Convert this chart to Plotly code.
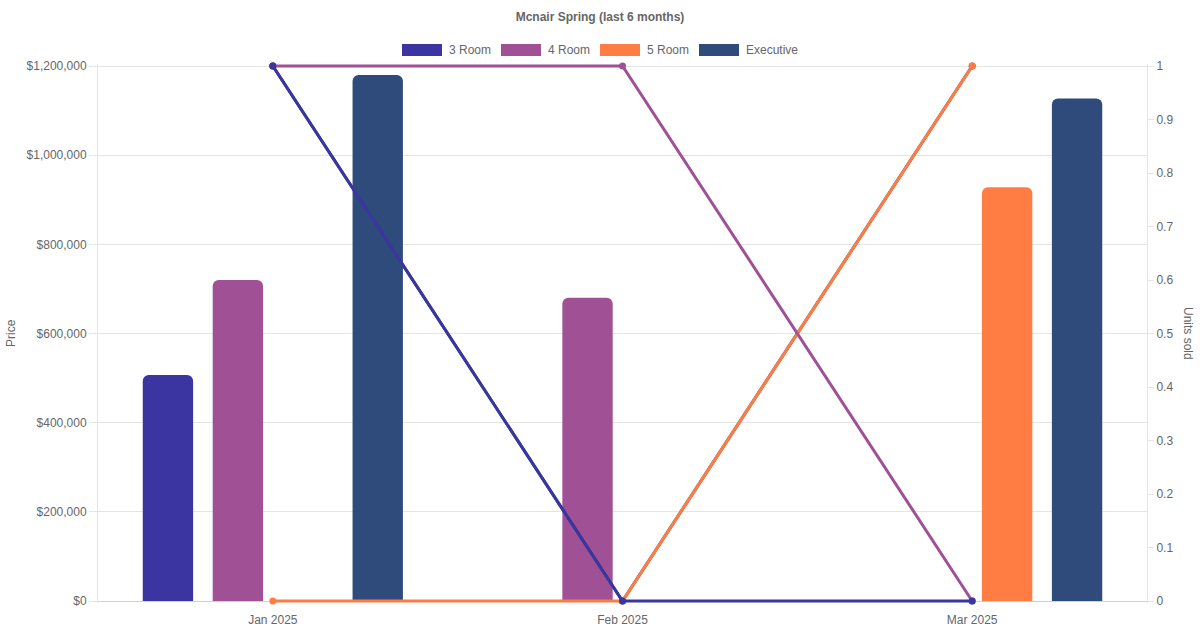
import plotly.graph_objects as go

months = ["Jan 2025", "Feb 2025", "Mar 2025"]
series_names = ["3 Room", "4 Room", "5 Room", "Executive"]
series_colors = ["#3a35a0", "#a05195", "#ff7c43", "#2f4b7c"]
price_3room = [507000, None, None]
price_4room = [720000, 680000, None]
price_5room = [None, None, 928000]
price_exec = [1180000, None, 1127000]
units_3room = [1, 0, 0]
units_4room = [1, 1, 0]
units_5room = [0, 0, 1]
units_exec = [1, 0, 1]
price_ticks = [0, 200000, 400000, 600000, 800000, 1000000, 1200000]

prices = [price_3room, price_4room, price_5room, price_exec]
units = [units_3room, units_4room, units_5room, units_exec]

FIG_W, FIG_H = 1200, 630
# desired plot area in pixels (value area), padded by EXT px so lines at edges are not clipped
L, R, T, B = 98, 1147, 66, 601
EXT = 2
W = R - L
H_ext = (B + EXT) - (T - EXT)

def px(x):
    return (x - L) / W

def py(y):
    return ((B + EXT) - y) / H_ext

pmax = 1200000
pe = pmax * EXT / (B - T)
ue = 1.0 * EXT / (B - T)

fig = go.Figure()
for name, color, vals in zip(series_names, series_colors, prices):
    fig.add_trace(go.Bar(
        x=months, y=vals, name=name, marker=dict(color=color, cornerradius=6,
        line=dict(width=0)), showlegend=False, yaxis="y"))

# lines: draw bottom to top -> Executive, 5 Room, 4 Room, 3 Room
for i in [3, 2, 1, 0]:
    fig.add_trace(go.Scatter(
        x=months, y=units[i], name=series_names[i], mode="lines+markers",
        line=dict(color=series_colors[i], width=3),
        marker=dict(color=series_colors[i], size=7),
        yaxis="y2", showlegend=False, cliponaxis=False))

font_fam = "Liberation Sans, Arial, sans-serif"
grid = "#e5e5e5"

# custom legend
legend_x = [402, 501, 600, 699]
shapes = []
annotations = []
for name, color, x0 in zip(series_names, series_colors, legend_x):
    shapes.append(dict(type="rect", xref="paper", yref="paper",
                       x0=px(x0), x1=px(x0 + 40), y0=py(56), y1=py(44),
                       fillcolor=color, line=dict(width=0), layer="above"))
    annotations.append(dict(text=name, xref="paper", yref="paper",
                            x=px(x0 + 45), y=py(50), xanchor="left", yanchor="middle",
                            showarrow=False, font=dict(size=12, color="#666", family=font_fam)))

annotations.append(dict(text="Price", xref="paper", yref="paper", x=px(11), y=py(333),
                        textangle=-90, showarrow=False, xanchor="center", yanchor="middle",
                        font=dict(size=12, color="#666", family=font_fam)))
annotations.append(dict(text="Units sold", xref="paper", yref="paper", x=px(1188), y=py(333),
                        textangle=90, showarrow=False, xanchor="center", yanchor="middle",
                        font=dict(size=12, color="#666", family=font_fam)))

fig.update_layout(
    width=FIG_W, height=FIG_H,
    margin=dict(l=L, r=FIG_W - R, t=T - EXT, b=FIG_H - (B + EXT), pad=0, autoexpand=False),
    paper_bgcolor="white", plot_bgcolor="white",
    font=dict(family=font_fam, size=12, color="#666"),
    title=dict(text="Mcnair Spring (last 6 months)", x=0.5, xanchor="center",
               y=1 - 17 / FIG_H, yanchor="middle",
               font=dict(size=12, color="#666", weight=700, family=font_fam)),
    barmode="group", bargap=0.2, bargroupgap=0.28,
    showlegend=False,
    xaxis=dict(type="category", range=[-0.5, 2.5], showgrid=False, automargin=False,
               showline=False, ticks="", tickfont=dict(size=12, color="#666"),
               ticklabelstandoff=8),
    yaxis=dict(range=[-pe, pmax + pe], tickvals=price_ticks, automargin=False,
               ticktext=["$" + f"{v:,}" for v in price_ticks],
               showgrid=True, gridcolor=grid, gridwidth=1,
               zeroline=True, zerolinecolor="#d0d0d0", zerolinewidth=1,
               showline=True, linecolor=grid, linewidth=1,
               ticks="outside", ticklen=8, tickcolor=grid,
               tickfont=dict(size=12, color="#666")),
    yaxis2=dict(range=[-ue, 1 + ue], tick0=0, dtick=0.1, overlaying="y", side="right",
                automargin=False, showgrid=False, zeroline=False,
                showline=True, linecolor=grid, linewidth=1,
                ticks="outside", ticklen=6, tickcolor=grid,
                tickfont=dict(size=12, color="#666")),
    shapes=shapes, annotations=annotations,
)

fig.write_html("out.html", config={"displayModeBar": False},
               post_script="document.body.style.margin='0';document.body.style.overflow='hidden';")
